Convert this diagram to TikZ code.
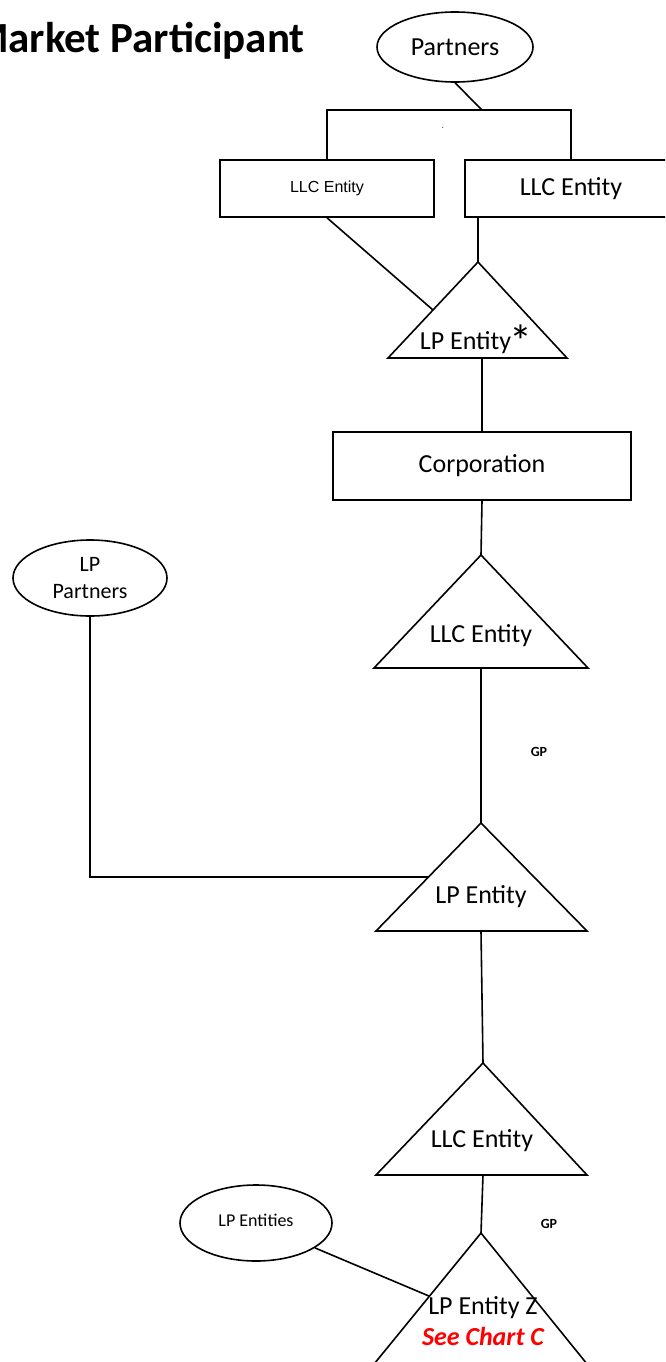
\documentclass[tikz,border=0pt]{standalone}
\usepackage{fontspec}
\setmainfont{Carlito}
\newfontfamily\arialfont{Liberation Sans}
\usetikzlibrary{shapes.geometric, calc}
\tikzstyle{oOwner} = [ellipse, draw=black, line width=1.6pt, inner sep=0pt, text centered, align=center, font=\fontsize{26}{28}\selectfont]
\tikzstyle{oBox} = [rectangle, draw=black, line width=1.6pt, inner sep=0pt, text centered, font=\fontsize{26}{28}\selectfont]
\tikzstyle{oText} = [inner sep=0pt, anchor=base, font=\fontsize{26}{28}\selectfont]
\tikzstyle{oGP} = [inner sep=0pt, anchor=base, font=\bfseries\fontsize{14}{16}\selectfont]
\tikzstyle{oLine} = [line width=1.6pt, line join=miter]

\begin{document}
\begin{tikzpicture}[x=1pt, y=-1pt]
    \useasboundingbox (0,0) rectangle (665,1362);
    \clip (0,0) rectangle (665,1362);
    \node (title) [anchor=base east, inner sep=0pt, font=\bfseries\fontsize{43}{47}\selectfont] at (305,53) {Market Participant};

    % owners at the top
    \node (partners) [oOwner, minimum width=156, minimum height=70] at (455,47) {Partners};
    \coordinate (split) at (482,110);
    \node (dot) [inner sep=0pt, font=\fontsize{8}{8}\selectfont] at (443,128) {.};
    \node (llcLeft) [oBox, minimum width=214, minimum height=57, font=\arialfont\fontsize{16}{18}\selectfont] at (327,188.5) {LLC Entity};
    \node (llcRight) [oBox, minimum width=212, minimum height=57] at (571,188.5) {LLC Entity};

    % triangles
    \draw [oLine] (478,262) coordinate (lpTop) -- (567,358) coordinate (lpRight) -- (388,358) coordinate (lpLeft) -- cycle;
    \node (lpText) [oText] at (476,349) {LP Entity\kern-2pt\raisebox{-8pt}{\fontsize{46}{46}\selectfont *}};
    \node (corp) [oBox, minimum width=298, minimum height=68] at (482,466) {Corporation};
    \draw [oLine] (481,555) coordinate (llcTop) -- (588,668) coordinate (llcRight2) -- (374,668) coordinate (llcLeft2) -- cycle;
    \node (llcText) [oText] at (481,642) {LLC Entity};
    \node (gpUpper) [oGP] at (539,756) {GP};
    \node (lpPartners) [oOwner, minimum width=154, minimum height=76, font=\fontsize{22}{27}\selectfont] at (90,578) {LP\\Partners};
    \draw [oLine] (481,823) coordinate (lpbTop) -- (587,931) coordinate (lpbRight) -- (376,931) coordinate (lpbLeft) -- cycle;
    \node (lpbText) [oText] at (481,903) {LP Entity};
    \draw [oLine] (483,1063) coordinate (llcbTop) -- (587,1175) coordinate (llcbRight) -- (376,1175) coordinate (llcbLeft) -- cycle;
    \node (llcbText) [oText] at (482,1147) {LLC Entity};
    \node (gpLower) [oGP] at (549,1228) {GP};
    \node (lpEntities) [oOwner, minimum width=152, minimum height=76, font=\fontsize{18}{20}\selectfont] at (256,1223) {\raisebox{6pt}{LP Entities}};
    \draw [oLine] (481,1233) coordinate (lpzTop) -- (600,1380) coordinate (lpzRight) -- (361,1380) coordinate (lpzLeft) -- cycle;
    \node (lpzText) [oText] at (483,1314) {LP Entity Z};
    \node (chartC) [oText, text=red, font=\bfseries\itshape\fontsize{26}{28}\selectfont] at (483,1345) {See Chart C};

    \draw [oLine] (partners.south) -- (split);
    \draw [oLine] (llcLeft.north) |- (split) -| (llcRight.north);
    \draw [oLine] (lpTop |- llcRight.south) -- (lpTop);
    \draw [oLine] (llcLeft.south) -- ($(lpTop)!0.5!(lpLeft)$);
    \draw [oLine] (corp.north |- lpLeft) -- (corp.north);
    \draw [oLine] (corp.south) -- (llcTop);
    \draw [oLine] (llcTop |- llcLeft2) -- (lpbTop);
    \draw [oLine] (lpPartners.south) |- ($(lpbTop)!0.5!(lpbLeft)$);
    \draw [oLine] (lpbTop |- lpbLeft) -- (llcbTop);
    \draw [oLine] (llcbTop |- llcbLeft) -- (lpzTop);
    \draw [oLine] (lpEntities) -- ($(lpzTop)!0.43!(lpzLeft)$);
\end{tikzpicture}
\end{document}
